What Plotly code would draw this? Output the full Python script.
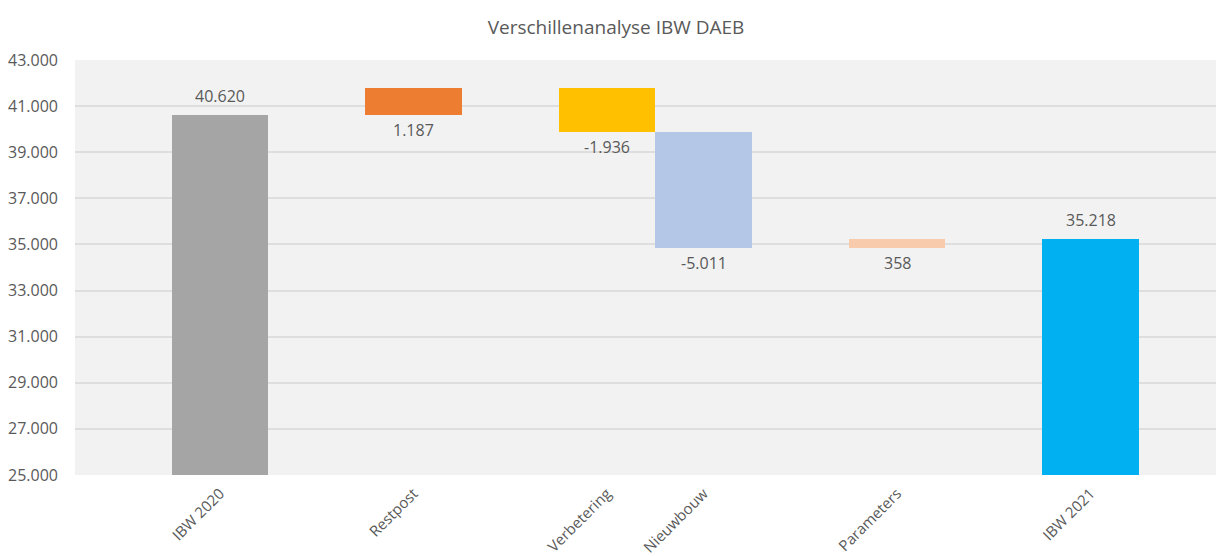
import plotly.graph_objects as go

# Category slots (blank slots keep the spacing of the original chart)
slots = ["  ", "IBW 2020", "   ", "Restpost", "    ", "Verbetering", "Nieuwbouw",
         "     ", "Parameters", "      ", "IBW 2021", "       "]

# Waterfall data
categories = ["IBW 2020", "Restpost", "Verbetering", "Nieuwbouw", "Parameters", "IBW 2021"]
values = [40620, 1187, -1936, -5011, 358, 35218]
kinds = ["total", "delta", "delta", "delta", "delta", "total"]
colors = ["#A5A5A5", "#ED7D31", "#FFC000", "#B4C7E7", "#F8CBAD", "#00B0F0"]
label_texts = ["40.620", "1.187", "-1.936", "-5.011", "358", "35.218"]

y_min, y_max, y_step = 25000, 43000, 2000

# compute bases / heights from the data
bases, heights = [], []
running = 0
for v, k in zip(values, kinds):
    if k == "total":
        bases.append(y_min)
        heights.append(v - y_min)
        running = v
    else:
        start = running
        running = running + v
        bases.append(min(start, running))
        heights.append(abs(v))

tops = [b + h for b, h in zip(bases, heights)]

txt_color = "#595959"
font_family = "Open Sans, Noto Sans, sans-serif"

fig = go.Figure()
fig.add_trace(go.Bar(
    x=categories, y=heights, base=bases, width=1.0,
    marker=dict(color=colors, line=dict(width=0)),
    hoverinfo="skip", showlegend=False,
))

# labels: totals above, deltas below
for c, k, t, b, s in zip(categories, kinds, tops, bases, label_texts):
    if k == "total":
        fig.add_annotation(x=c, y=t, text=s, showarrow=False, yanchor="bottom",
                           yshift=6, font=dict(size=16, color=txt_color, family=font_family))
    else:
        fig.add_annotation(x=c, y=b, text=s, showarrow=False, yanchor="top",
                           yshift=-2, font=dict(size=16, color=txt_color, family=font_family))

fig.update_layout(
    width=1216, height=548,
    margin=dict(l=67, r=0, t=52, b=81, autoexpand=False),
    paper_bgcolor="white", plot_bgcolor="#F2F2F2",
    separators=",.",
    font=dict(family=font_family, color=txt_color, size=14),
    title=dict(text="Verschillenanalyse IBW DAEB", x=0.5, xanchor="center",
               y=1 - 19 / 548, yanchor="middle",
               font=dict(size=19, color=txt_color, family=font_family)),
    bargap=0,
    showlegend=False,
    hovermode=False,
)
fig.update_xaxes(
    type="category", categoryorder="array", categoryarray=slots,
    range=[-0.5, 11.38], tickangle=-45, showgrid=False, showline=False,
    ticks="", ticklabelstandoff=6, automargin=False,
    tickfont=dict(size=15, color=txt_color, family=font_family),
    fixedrange=True,
)
fig.update_yaxes(
    range=[y_min, y_max], dtick=y_step, tick0=y_min, tickformat=",d",
    showgrid=True, gridcolor="#DEDEDE", gridwidth=1.5, zeroline=False,
    showline=False, ticks="", ticklabelstandoff=16, automargin=False,
    tickfont=dict(size=16, color=txt_color, family=font_family),
    fixedrange=True,
)

fig.write_html("out.html")
